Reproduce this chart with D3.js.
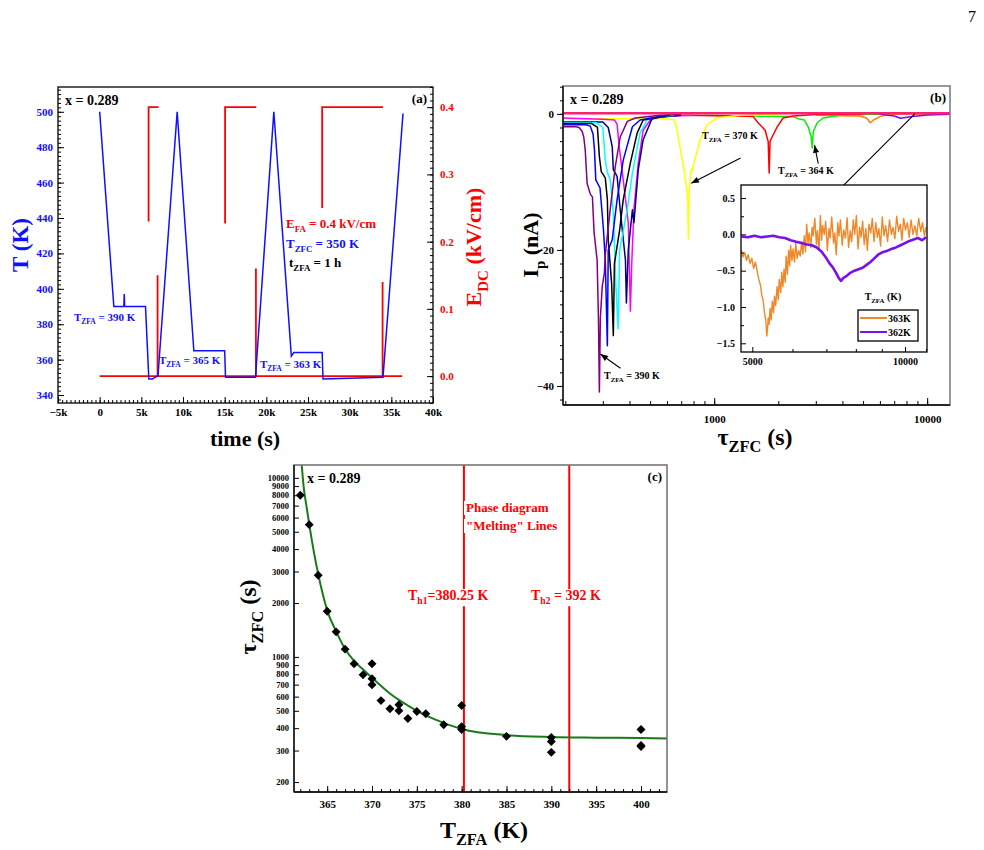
<!DOCTYPE html>
<html>
<head>
<meta charset="utf-8">
<script src="https://cdn.jsdelivr.net/npm/d3@7"></script>
<style>
  body { margin: 0; background: #fff; }
  text { font-family: "Liberation Serif", "Times New Roman", serif; font-weight: bold; }
</style>
</head>
<body>
<div id="fig"></div>
<script>
// ---------- panel (a) data : time (s) vs T (K) and E_DC (kV/cm)
var tempTrace = [[0,500],[1700,390],[2900,390],[2950,397],[3000,390],[5500,390],[5900,349],[6300,349],[7000,351],
  [9300,500],[11300,365],[15000,365],[15100,350],[18700,350],[20900,500],[23000,362],[23300,364],[26700,364],
  [26800,349],[34000,350],[36400,499]];
var eBase = [[0,0],[36300,0]];
var ePulse1 = [[5870,0.23],[5870,0.40],[7070,0.40]];
var eSpike1 = [[6950,0.15],[6950,0]];
var ePulse2 = [[15050,0.227],[15050,0.40],[18800,0.40]];
var eSpike2 = [[18750,0.16],[18750,0]];
var ePulse3 = [[26700,0.25],[26700,0.40],[34000,0.40]];
var eSpike3 = [[33950,0.14],[33950,0]];
var timeTicks = [-5000,0,5000,10000,15000,20000,25000,30000,35000,40000];
var tempTicks = [340,360,380,400,420,440,460,480,500];
var eTicks = [0,0.1,0.2,0.3,0.4];

// ---------- panel (b) data : tau_ZFC (s) vs I_p (nA)
var ipPurple390 = [[195,-1.9],[225,-1.9],[232,-2.0],[240,-2.6],[244,-3.4],[248,-5.3],[253,-10.2],[262,-11.8],[268,-12.2],
  [273,-17.5],[282,-21.5],[286,-30],[289,-40.9],[292,-30],[298,-25.4],[305,-23.4],[308,-20.7],[325,-14.0],[343,-7.8],
  [362,-3.4],[391,-1.1],[426,-0.6],[558,-0.2],[700,-0.1]];
var ipBlue = [[195,-1.6],[250,-1.6],[262,-1.8],[270,-3.0],[274,-5.3],[278,-9.7],[291,-10.9],[302,-17],[308,-21.5],
  [315,-34.1],[318,-20],[332,-18.5],[350,-12.6],[374,-6.8],[413,-1.9],[449,-0.9],[600,-0.2]];
var ipBlack = [[195,-1.4],[265,-1.4],[283,-2.0],[289,-6.3],[295,-8.5],[308,-9.4],[315,-12.6],[318,-18.5],[330,-25],
  [336,-32.6],[340,-22],[360,-17],[374,-12.6],[404,-7.2],[435,-2.8],[464,-0.9],[620,-0.2]];
var ipCyan = [[195,-1.3],[280,-1.3],[300,-2.0],[308,-6.8],[315,-8.6],[325,-9.7],[336,-14.6],[345,-25],[354,-31.6],
  [360,-20],[391,-14],[413,-8.7],[449,-2.8],[490,-0.6],[650,-0.2]];
var ipNavy = [[195,-1.2],[300,-1.2],[318,-2.0],[332,-4.8],[336,-8.2],[350,-9.2],[362,-14.1],[383,-21.5],[387,-27.8],
  [395,-20],[413,-14.1],[420,-16],[440,-8.2],[464,-3.8],[512,-0.6],[700,-0.2]];
var ipMagenta = [[195,-0.6],[300,-0.8],[340,-0.9],[350,-1.5],[358,-4.8],[374,-9.7],[395,-16],[404,-29],[410,-22],
  [420,-14],[440,-7.2],[464,-2.4],[501,-0.9],[558,-0.4],[800,-0.2]];
var ipYellow370 = [[195,-0.7],[600,-0.7],[650,-0.9],[665,-1.9],[690,-4.8],[718,-7.8],[740,-10.7],[752,-13],[756,-18.4],
  [762,-12],[772,-9.7],[780,-8.1],[790,-8.3],[800,-7.5],[860,-3.8],[927,-1.6],[1030,-0.6],[1324,-0.2],[2000,-0.1]];
var ipRed = [[700,-0.2],[1300,-0.3],[1524,-0.4],[1608,-1.3],[1735,-2.4],[1793,-4.1],[1812,-8.7],[1830,-4],[1871,-3.4],
  [1976,-1.9],[2107,-0.6],[2350,-0.3],[3000,-0.1],[5000,0]];
var ipGreen364 = [[900,-0.2],[2350,-0.4],[2479,-0.7],[2650,-0.9],[2763,-1.9],[2855,-3.4],[2886,-5.0],[2920,-2.6],
  [3046,-1.3],[3248,-0.6],[3900,-0.2],[6000,0]];
var ipOrange363 = [[3000,-0.2],[4800,-0.3],[5200,-0.6],[5400,-1.3],[5600,-0.9],[6000,-0.4],[6500,-0.1],[8000,0],[12800,0]];
var ipViolet362 = [[3000,0],[6000,-0.05],[7000,-0.3],[7500,-0.65],[8500,-0.4],[10000,-0.15],[12800,-0.05]];
var ipPink = [[195,0.1],[1000,0.1],[3000,0.1],[12800,0.1]];
var ipTicks = [-40,-20,0];
var tauTicksB = [1000,10000];

// inset of (b)
var inset363 = [[4760,-0.22],[4790,-0.31],[4830,-0.25],[4870,-0.36],[4905,-0.28],[4950,-0.40],[4990,-0.33],[5030,-0.47],
  [5070,-0.38],[5110,-0.50],[5150,-0.62],[5190,-0.70],[5220,-0.84],[5250,-0.90],[5285,-1.08],[5315,-1.18],[5340,-1.40],
  [5360,-1.28],[5375,-1.15],[5395,-1.24],[5420,-1.02],[5445,-1.18],[5475,-0.92],[5505,-1.08],[5530,-0.85],[5560,-0.98],
  [5595,-0.72],[5625,-0.90],[5650,-0.62],[5690,-0.80],[5715,-0.52],[5745,-0.72],[5775,-0.48],[5805,-0.66],[5830,-0.30],
  [5865,-0.55],[5895,-0.22],[5925,-0.43],[5950,-0.15],[5985,-0.36],[6015,-0.20],[6055,-0.38],[6090,-0.12],[6130,-0.33],
  [6170,-0.22],[6215,-0.30],[6255,-0.10],[6290,-0.27],[6330,-0.02],[6365,-0.24],[6400,0.14],[6440,-0.12],[6475,0.02],
  [6520,-0.18],[6560,0.10],[6590,-0.02],[6640,0.22],[6690,-0.14],[6720,0.05],[6770,-0.22],[6810,0.26],[6850,-0.08],
  [6880,0.12],[6930,0.00],[6975,0.18],[7030,-0.22],[7080,0.08],[7120,-0.05],[7170,0.24],[7230,-0.12],[7270,0.02],
  [7320,-0.28],[7370,0.16],[7410,-0.02],[7460,0.20],[7520,-0.15],[7570,0.06],[7630,-0.05],[7690,0.23],[7740,-0.18],
  [7800,0.05],[7850,-0.10],[7910,0.20],[7960,0.00],[8020,0.26],[8080,-0.20],[8140,0.10],[8190,-0.04],[8250,0.18],
  [8310,-0.14],[8370,0.08],[8430,-0.22],[8490,0.14],[8560,0.02],[8620,0.22],[8690,-0.10],[8760,0.16],[8820,-0.04],
  [8880,0.08],[8950,-0.16],[9020,0.24],[9090,-0.02],[9160,0.12],[9240,-0.10],[9320,0.20],[9400,0.00],[9470,0.10],
  [9550,-0.06],[9630,0.25],[9710,0.04],[9790,0.14],[9860,-0.08],[9940,0.22],[10020,0.06],[10110,0.16],[10190,-0.04],
  [10280,0.20],[10370,0.00],[10460,0.12],[10550,-0.02],[10640,0.22],[10740,0.04],[10830,0.16],[10920,-0.02],[11000,0.10]];
var inset362 = [[4760,-0.03],[4900,-0.04],[5050,-0.02],[5200,-0.04],[5350,-0.03],[5500,-0.02],[5650,-0.04],[5800,-0.05],
  [5950,-0.08],[6100,-0.10],[6250,-0.12],[6400,-0.14],[6550,-0.15],[6700,-0.18],[6850,-0.24],[7000,-0.33],[7100,-0.40],
  [7200,-0.45],[7300,-0.52],[7400,-0.60],[7480,-0.64],[7560,-0.60],[7650,-0.58],[7800,-0.53],[7950,-0.50],[8100,-0.48],
  [8250,-0.46],[8400,-0.42],[8550,-0.38],[8700,-0.33],[8850,-0.28],[9000,-0.25],[9200,-0.23],[9400,-0.20],[9600,-0.18],
  [9800,-0.15],[10000,-0.12],[10200,-0.09],[10400,-0.07],[10600,-0.05],[10800,-0.08],[11000,-0.04]];
var insetYTicks = [0.5,0,-0.5,-1.0,-1.5];
var insetXTicks = [5000,10000];

// ---------- panel (c) data : T_ZFA (K) vs tau_ZFC (s)
var tzfa = [362,363,364,365,366,367,368,369,370,370,370,371,372,373,373,374,375,376,378,380,380,380,385,390,390,390,400,400,400];
var tauZfc = [8000,5480,2860,1800,1380,1105,915,794,915,755,699,570,514,541,501,453,495,482,418,535,408,393,360,355,337,293,393,320,316];
var fitT = [362.16,362.4,362.7,363,363.5,364,364.5,365,366,367,368,369,370,371,372,373,374,375,376,378,380,385,390,395,400,403];
var fitTau = [11800,8700,6900,5500,3900,2900,2250,1820,1390,1107,950,850,765,690,625,575,535,500,472,428,396,366,357,354,352,350];
var meltLines = [380.25, 392];
var tzfaTicks = [365,370,375,380,385,390,395,400];
var tauTicksC = [200,300,400,500,600,700,800,900,1000,2000,3000,4000,5000,6000,7000,8000,9000,10000];

var svg = d3.select("#fig").append("svg").attr("width", 984).attr("height", 850);
var defs = svg.append("defs");
defs.append("marker").attr("id", "ah").attr("viewBox", "0 0 10 10")
    .attr("refX", 10).attr("refY", 5).attr("markerWidth", 8).attr("markerHeight", 7)
    .attr("orient", "auto")
  .append("path").attr("d", "M0,1 L10,5 L0,9 z").attr("fill", "#000");

// text with subscripts, parts = [[str, "sub"?], ...]
function rich(g, x, y, parts, size, color, anchor, rot) {
    var t = g.append("text").attr("x", x).attr("y", y)
        .attr("font-size", size).attr("fill", color || "#000")
        .attr("text-anchor", anchor || "start");
    if (rot) t.attr("transform", "rotate(" + rot + "," + x + "," + y + ")");
    var shift = 0;
    parts.forEach(function (p) {
        var want = p[1] === "sub" ? size * 0.3 : 0;
        t.append("tspan").attr("dy", want - shift)
            .attr("font-size", p[1] === "sub" ? size * 0.68 : size).text(p[0]);
        shift = want;
    });
    return t;
}

function axis(g, fn, scale, values, size, fmt, color, fs, pad) {
    var a = g.append("g").call(fn(scale).tickValues(values).tickSize(size)
        .tickPadding(pad || 4).tickFormat(fmt || ""));
    a.select(".domain").remove();
    a.selectAll("line").attr("stroke", "#000");
    a.selectAll("text").attr("fill", color || "#000").attr("font-size", fs || 11);
    return a;
}

function clip(id, x, y, w, h) {
    defs.append("clipPath").attr("id", id).append("rect")
        .attr("x", x).attr("y", y).attr("width", w).attr("height", h);
}

var minus = function (s) { return String(s).replace("-", "\u2212"); };

// ============ panel (a)
var A = { l: 58, t: 87, r: 433, b: 403 };
var ax = d3.scaleLinear([-5000, 40000], [A.l, A.r]);
var ayT = d3.scaleLinear([335.5, 514], [A.b, A.t]);
var ayE = d3.scaleLinear([-0.04, 0.43], [A.b, A.t]);
var gA = svg.append("g");
clip("clipA", A.l, A.t, A.r - A.l, A.b - A.t);
var plotA = gA.append("g").attr("clip-path", "url(#clipA)");

var lineE = d3.line().x(d => ax(d[0])).y(d => ayE(d[1]));
[eBase, ePulse1, eSpike1, ePulse2, eSpike2, ePulse3, eSpike3].forEach(function (seg) {
    plotA.append("path").attr("d", lineE(seg)).attr("fill", "none")
        .attr("stroke", "#ff0000").attr("stroke-width", 1.8);
});
plotA.append("path").attr("d", d3.line().x(d => ax(d[0])).y(d => ayT(d[1]))(tempTrace))
    .attr("fill", "none").attr("stroke", "#1010ff").attr("stroke-width", 1.5);

gA.append("rect").attr("x", A.l).attr("y", A.t).attr("width", A.r - A.l).attr("height", A.b - A.t)
    .attr("fill", "none").attr("stroke", "#000").attr("stroke-width", 1.3);

var fmtK = d => d === 0 ? "0" : minus((d / 1000) + "k");
axis(gA.append("g").attr("transform", "translate(0," + A.b + ")"), d3.axisBottom, ax,
    d3.range(-5000, 40001, 500), -3);
axis(gA.append("g").attr("transform", "translate(0," + A.b + ")"), d3.axisBottom, ax,
    timeTicks, -6, fmtK, "#000", 11, 5);
axis(gA.append("g").attr("transform", "translate(" + A.l + ",0)"), d3.axisLeft, ayT,
    d3.range(337.5, 514, 2.5), -3);
axis(gA.append("g").attr("transform", "translate(" + A.l + ",0)"), d3.axisLeft, ayT,
    tempTicks, -6, d => d, "#1010ff", 11, 5);
axis(gA.append("g").attr("transform", "translate(" + A.r + ",0)"), d3.axisRight, ayE,
    d3.range(-0.04, 0.431, 0.01), -3);
axis(gA.append("g").attr("transform", "translate(" + A.r + ",0)"), d3.axisRight, ayE,
    eTicks, -6, d3.format(".1f"), "#ff0000", 11, 7);

rich(gA, 65, 105, [["x = 0.289"]], 14);
rich(gA, 427, 103, [["(a)"]], 13, "#000", "end");
rich(gA, 286, 228, [["E"], ["FA", "sub"], [" = 0.4 kV/cm"]], 13, "#ff0000");
rich(gA, 286, 248, [["T"], ["ZFC", "sub"], [" = 350 K"]], 13, "#1010ff");
rich(gA, 289, 267, [["t"], ["ZFA", "sub"], [" = 1 h"]], 13, "#000");
rich(gA, 74, 321, [["T"], ["ZFA", "sub"], [" = 390 K"]], 11, "#1010ff");
rich(gA, 159, 364, [["T"], ["ZFA", "sub"], [" = 365 K"]], 11, "#1010ff");
rich(gA, 260, 368, [["T"], ["ZFA", "sub"], [" = 363 K"]], 11, "#1010ff");
rich(gA, 245, 446, [["time (s)"]], 22, "#000", "middle");
rich(gA, 28, 245, [["T (K)"]], 23, "#1010ff", "middle", -90);
rich(gA, 481, 247, [["E"], ["DC", "sub"], [" (kV/cm)"]], 22, "#ff0000", "middle", -90);

// ============ panel (b)
var B = { l: 563, t: 86, r: 950, b: 405 };
var bx = d3.scaleLog([195, 12800], [B.l, B.r]);
var by = d3.scaleLinear([-42.8, 4.1], [B.b, B.t]);
var gB = svg.append("g");
clip("clipB", B.l, B.t, B.r - B.l, B.b - B.t);
var plotB = gB.append("g").attr("clip-path", "url(#clipB)");
var lineB = d3.line().x(d => bx(d[0])).y(d => by(d[1]));
[[ipOrange363, "#ff8000"], [ipViolet362, "#8000ff"], [ipGreen364, "#00ee00"], [ipRed, "#ff0000"],
 [ipYellow370, "#ffff00"], [ipMagenta, "#ff00ff"], [ipNavy, "#000080"], [ipCyan, "#00ffff"],
 [ipBlack, "#000000"], [ipBlue, "#0000ff"], [ipPurple390, "#800080"]].forEach(function (c) {
    plotB.append("path").attr("d", lineB(c[0])).attr("fill", "none")
        .attr("stroke", c[1]).attr("stroke-width", 1.5).attr("stroke-linejoin", "round");
});
plotB.append("path").attr("d", lineB(ipPink)).attr("fill", "none")
    .attr("stroke", "#ff2070").attr("stroke-width", 2.5);

gB.append("rect").attr("x", B.l).attr("y", B.t).attr("width", B.r - B.l).attr("height", B.b - B.t)
    .attr("fill", "none").attr("stroke", "#777").attr("stroke-width", 1.5);
gB.append("line").attr("x1", B.l).attr("x2", B.l).attr("y1", B.t).attr("y2", B.b).attr("stroke", "#000").attr("stroke-width", 1.3);
gB.append("line").attr("x1", B.l).attr("x2", B.r).attr("y1", B.b).attr("y2", B.b).attr("stroke", "#000").attr("stroke-width", 1.3);

var bMinor = [];
[100, 1000, 10000].forEach(function (dec) {
    for (var k = 1; k < 10; k++) { var v = dec * k; if (v >= 200 && v <= 12800) bMinor.push(v); }
});
axis(gB.append("g").attr("transform", "translate(0," + B.b + ")"), d3.axisBottom, bx, bMinor, -4);
axis(gB.append("g").attr("transform", "translate(0," + B.b + ")"), d3.axisBottom, bx,
    tauTicksB, -7, d => d, "#000", 11, 10);
axis(gB.append("g").attr("transform", "translate(" + B.l + ",0)"), d3.axisLeft, by,
    d3.range(-42, 4.1, 2), 3);
axis(gB.append("g").attr("transform", "translate(" + B.l + ",0)"), d3.axisLeft, by,
    ipTicks, 6, d => minus(d), "#000", 11, 3);

rich(gB, 570, 104, [["x = 0.289"]], 14);
rich(gB, 946, 102, [["(b)"]], 13, "#000", "end");
rich(gB, 702, 139, [["T"], ["ZFA", "sub"], [" = 370 K"]], 10);
rich(gB, 778, 174, [["T"], ["ZFA", "sub"], [" = 364 K"]], 10);
rich(gB, 604, 379, [["T"], ["ZFA", "sub"], [" = 390 K"]], 10);
rich(gB, 755, 445, [["\u03c4"], ["ZFC", "sub"], [" (s)"]], 24, "#000", "middle");
rich(gB, 538, 245, [["I"], ["p", "sub"], [" (nA)"]], 22, "#000", "middle", -90);

function arrow(g, x1, y1, x2, y2) {
    g.append("line").attr("x1", x1).attr("y1", y1).attr("x2", x2).attr("y2", y2)
        .attr("stroke", "#000").attr("stroke-width", 1.1).attr("marker-end", "url(#ah)");
}
arrow(gB, bx(1330), by(-6.5), bx(780), by(-10.2));
arrow(gB, bx(3080), by(-7.3), bx(2960), by(-4.6));
arrow(gB, bx(363), by(-37.4), bx(292), by(-35.3));
arrow(gB, bx(8750), by(0.0), bx(3000), by(-14.6));

// inset
var I = { l: 741, t: 185, r: 927, b: 352 };
var ix = d3.scaleLog([4750, 11050], [I.l, I.r]);
var iy = d3.scaleLinear([-1.62, 0.68], [I.b, I.t]);
var gI = svg.append("g");
gI.append("rect").attr("x", I.l).attr("y", I.t).attr("width", I.r - I.l).attr("height", I.b - I.t)
    .attr("fill", "#fff");
clip("clipI", I.l, I.t, I.r - I.l, I.b - I.t);
var plotI = gI.append("g").attr("clip-path", "url(#clipI)");
var lineI = d3.line().x(d => ix(d[0])).y(d => iy(d[1]));
plotI.append("path").attr("d", lineI(inset363)).attr("fill", "none")
    .attr("stroke", "#f0882a").attr("stroke-width", 1.4).attr("stroke-linejoin", "round");
plotI.append("path").attr("d", lineI(inset362)).attr("fill", "none")
    .attr("stroke", "#7a10e8").attr("stroke-width", 2.6).attr("stroke-linejoin", "round");
gI.append("rect").attr("x", I.l).attr("y", I.t).attr("width", I.r - I.l).attr("height", I.b - I.t)
    .attr("fill", "none").attr("stroke", "#000").attr("stroke-width", 1.3);
axis(gI.append("g").attr("transform", "translate(0," + I.b + ")"), d3.axisBottom, ix,
    [6000, 7000, 8000, 9000, 11000], -3);
axis(gI.append("g").attr("transform", "translate(0," + I.b + ")"), d3.axisBottom, ix,
    insetXTicks, -5, d => d, "#000", 10, 6);
axis(gI.append("g").attr("transform", "translate(" + I.l + ",0)"), d3.axisLeft, iy,
    [0.25, -0.25, -0.75, -1.25], -3);
axis(gI.append("g").attr("transform", "translate(" + I.l + ",0)"), d3.axisLeft, iy,
    insetYTicks, -5, d => minus(d3.format(".1f")(d)), "#000", 10, 6);

rich(gI, 883, 300, [["T"], ["ZFA", "sub"], [" (K)"]], 10, "#000", "middle");
gI.append("rect").attr("x", 858).attr("y", 310).attr("width", 60).attr("height", 31)
    .attr("fill", "#fff").attr("stroke", "#000").attr("stroke-width", 1.3);
[["363K", "#f0882a", 318], ["362K", "#7a10e8", 332]].forEach(function (e) {
    gI.append("line").attr("x1", 860).attr("x2", 887).attr("y1", e[2]).attr("y2", e[2])
        .attr("stroke", e[1]).attr("stroke-width", 2);
    gI.append("text").attr("x", 888).attr("y", e[2] + 4).attr("font-size", 10).text(e[0]);
});

// ============ panel (c)
var C = { l: 294, t: 465, r: 667, b: 792 };
var cx = d3.scaleLinear([361.3, 402.9], [C.l, C.r]);
var cy = d3.scaleLog([176, 11800], [C.b, C.t]);
var gC = svg.append("g");
clip("clipC", C.l, C.t, C.r - C.l, C.b - C.t);
var plotC = gC.append("g").attr("clip-path", "url(#clipC)");

meltLines.forEach(function (T) {
    plotC.append("line").attr("x1", cx(T)).attr("x2", cx(T)).attr("y1", C.t).attr("y2", C.b)
        .attr("stroke", "#ff0000").attr("stroke-width", 2);
});
plotC.append("path")
    .attr("d", d3.line().curve(d3.curveMonotoneX).x((d, i) => cx(fitT[i])).y(d => cy(d))(fitTau))
    .attr("fill", "none").attr("stroke", "#1a7a1a").attr("stroke-width", 2);
plotC.selectAll("path.pt").data(tauZfc).enter().append("path").attr("class", "pt")
    .attr("d", d3.symbol(d3.symbolSquare, 40)())
    .attr("transform", (d, i) => "translate(" + cx(tzfa[i]) + "," + cy(d) + ") rotate(45)")
    .attr("fill", "#000");

gC.append("rect").attr("x", C.l).attr("y", C.t).attr("width", C.r - C.l).attr("height", C.b - C.t)
    .attr("fill", "none").attr("stroke", "#777").attr("stroke-width", 1.6);
gC.append("line").attr("x1", C.l).attr("x2", C.l).attr("y1", C.t).attr("y2", C.b).attr("stroke", "#000").attr("stroke-width", 1.3);
gC.append("line").attr("x1", C.l).attr("x2", C.r).attr("y1", C.b).attr("y2", C.b).attr("stroke", "#000").attr("stroke-width", 1.3);

axis(gC.append("g").attr("transform", "translate(0," + C.b + ")"), d3.axisBottom, cx,
    d3.range(362, 403, 1), -3);
axis(gC.append("g").attr("transform", "translate(0," + C.b + ")"), d3.axisBottom, cx,
    tzfaTicks, -6, d => d, "#000", 11, 8);
axis(gC.append("g").attr("transform", "translate(" + C.l + ",0)"), d3.axisLeft, cy,
    tauTicksC, -5, d => d, "#000", 8.5, 5);

function boxed(g, x, y, parts, size) {
    var t = rich(g, x, y, parts, size, "#ff0000");
    var bb = t.node().getBBox();
    g.insert("rect", "text").attr("x", bb.x - 2).attr("y", bb.y + 1)
        .attr("width", bb.width + 4).attr("height", bb.height - 1).attr("fill", "#fff");
    return t;
}
var gLab = gC.append("g");
boxed(gLab, 466, 512, [["Phase diagram"]], 13);
boxed(gLab, 466, 530, [["\"Melting\" Lines"]], 13);
boxed(gLab, 408, 600, [["T"], ["h1", "sub"], ["=380.25 K"]], 14);
boxed(gLab, 531, 600, [["T"], ["h2", "sub"], [" = 392 K"]], 14);

rich(gC, 307, 483, [["x = 0.289"]], 14);
rich(gC, 662, 481, [["(c)"]], 13, "#000", "end");
rich(gC, 484, 838, [["T"], ["ZFA", "sub"], [" (K)"]], 24, "#000", "middle");
rich(gC, 256, 617, [["\u03c4"], ["ZFC", "sub"], [" (s)"]], 24, "#000", "middle", -90);

// page number
svg.append("text").attr("x", 976).attr("y", 22).attr("text-anchor", "end")
    .attr("font-size", 16).style("font-weight", "normal").text("7");
</script>
</body>
</html>
